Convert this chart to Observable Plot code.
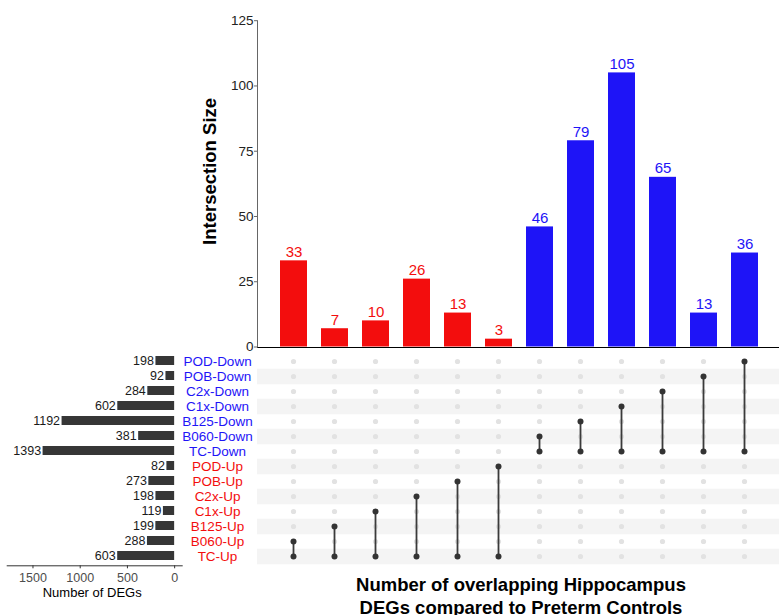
<!DOCTYPE html>
<html><head><meta charset="utf-8">
<script src="https://cdn.jsdelivr.net/npm/d3@7"></script>
<script src="https://cdn.jsdelivr.net/npm/@observablehq/plot@0.6"></script>
<style>
body{margin:0;background:#fff;}
#wrap{position:relative;width:779px;height:615px;overflow:hidden;font-family:"Liberation Sans",Arial,sans-serif;}
#wrap svg{position:absolute;left:0;top:0;}
#title{position:absolute;left:321px;width:400px;top:573px;text-align:center;font-weight:bold;font-size:18.5px;line-height:23px;color:#000;white-space:nowrap;}
</style></head><body><div id="wrap"></div>
<script>
// ---- data ----
const sets = ["POD-Down","POB-Down","C2x-Down","C1x-Down","B125-Down","B060-Down","TC-Down",
              "POD-Up","POB-Up","C2x-Up","C1x-Up","B125-Up","B060-Up","TC-Up"];
const setSizes = [198, 92, 284, 602, 1192, 381, 1393, 82, 273, 198, 119, 199, 288, 603];
const intersectionSets = [
  ["TC-Up","B060-Up"],["TC-Up","B125-Up"],["TC-Up","C1x-Up"],["TC-Up","C2x-Up"],["TC-Up","POB-Up"],["TC-Up","POD-Up"],
  ["TC-Down","B060-Down"],["TC-Down","B125-Down"],["TC-Down","C1x-Down"],["TC-Down","C2x-Down"],["TC-Down","POB-Down"],["TC-Down","POD-Down"]
];
const intersectionSizes = [33, 7, 10, 26, 13, 3, 46, 79, 105, 65, 13, 36];
const yTicks = [0, 25, 50, 75, 100, 125];
const xTicks = [0, 500, 1000, 1500];

// ---- styling ----
const RED = "#f30d0d", BLUE = "#1e14f7";
const FONT = "Liberation Sans, Arial, sans-serif";
const W = 779, H = 615;
const colRange = [267.4, 769.6];
const colorOf = s => s.endsWith("Down") ? BLUE : RED;

const ids = intersectionSets.map(s => s.join(" & "));
const cols = ids.map((id, i) => ({id, size: intersectionSizes[i], color: colorOf(intersectionSets[i][0])}));
const setData = sets.map((s, i) => ({set: s, size: setSizes[i]}));
const cells = [];
ids.forEach((id, i) => sets.forEach(s => cells.push({id, set: s, on: intersectionSets[i].includes(s)})));
const links = ids.map((id, i) => ({id, a: intersectionSets[i][0], b: intersectionSets[i][1]}));

const wrap = document.getElementById("wrap");
const base = {width: W, height: H, style: {background: "transparent", fontFamily: FONT}};

// left set-size bars
const left = Plot.plot({...base,
  marginLeft: 6.7, marginRight: W - 181.7, marginTop: 350.7, marginBottom: H - 565.3,
  x: {domain: [-80, 1773], reverse: true, axis: null},
  y: {type: "band", domain: sets, paddingInner: 0.4, paddingOuter: 0.2, axis: null},
  marks: [
    Plot.barX(setData, {x: "size", y: "set", fill: "#363636"}),
    Plot.text(setData, {x: "size", y: "set", text: d => String(d.size), textAnchor: "end", dx: -2, fontSize: 12.5, fill: "#1a1a1a"}),
    Plot.frame({anchor: "bottom", stroke: "#333"}),
    Plot.axisX({ticks: xTicks, tickFormat: d => String(d), tickSize: 3, tickPadding: 4, fontSize: 12.5, fill: "#4d4d4d", stroke: "#333", label: null}),
    Plot.text(["Number of DEGs"], {frameAnchor: "bottom", dy: 31, dx: -2.5, lineAnchor: "bottom", textAnchor: "middle", fontSize: 13, fill: "#000"})
  ]
});

// matrix
const matrix = Plot.plot({...base,
  marginLeft: 257, marginRight: 0, marginTop: 350.7, marginBottom: H - 565.3,
  x: {type: "point", domain: ids, range: colRange, padding: 0.5, axis: null},
  y: {type: "point", domain: sets, padding: 0.5, axis: null},
  marks: [
    Plot.ruleY(sets.filter((s, i) => i % 2 === 1), {stroke: "#f4f4f4", strokeWidth: (565.3 - 350.7) / 14}),
    Plot.dot(cells.filter(d => !d.on), {x: "id", y: "set", r: 2.6, fill: "#e2e2e2"}),
    Plot.ruleX(links, {x: "id", y1: "a", y2: "b", stroke: "#3b3b3b", strokeWidth: 1.8}),
    Plot.dot(cells.filter(d => d.on), {x: "id", y: "set", r: 3, fill: "#333"}),
    Plot.text(sets, {frameAnchor: "left", y: d => d, dx: -40, text: d => d, fill: d => colorOf(d), fontSize: 13.5, textAnchor: "middle"})
  ],
  color: {type: "identity"}
});

// top intersection bars
const topPlot = Plot.plot({...base,
  marginLeft: 257, marginRight: 0, marginTop: 20.2, marginBottom: H - 346.5,
  x: {type: "band", domain: ids, range: colRange, paddingInner: 0.35, paddingOuter: 0.175, axis: null},
  y: {domain: [0, 125], axis: null},
  color: {type: "identity"},
  marks: [
    Plot.barY(cols, {x: "id", y: "size", fill: "color"}),
    Plot.text(cols, {x: "id", y: "size", text: d => String(d.size), fill: "color", dy: -4, lineAnchor: "bottom", fontSize: 15}),
    Plot.ruleY([0], {stroke: "#000", strokeWidth: 1, dy: 0.5}),
    Plot.frame({anchor: "left", stroke: "#666"}),
    Plot.axisY({ticks: yTicks, tickSize: 3, tickPadding: 1, fontSize: 13.5, fill: "#222", stroke: "#666", label: null}),
    Plot.text(["Intersection Size"], {frameAnchor: "left", rotate: -90, textAnchor: "middle", dx: -47, dy: -12.4, fontSize: 18.5, fontWeight: "bold", fill: "#000"})
  ]
});

wrap.append(left, matrix, topPlot);
const title = document.createElement("div");
title.id = "title";
title.innerHTML = "Number of overlapping Hippocampus<br>DEGs compared to Preterm Controls";
wrap.append(title);
</script>
</body></html>
